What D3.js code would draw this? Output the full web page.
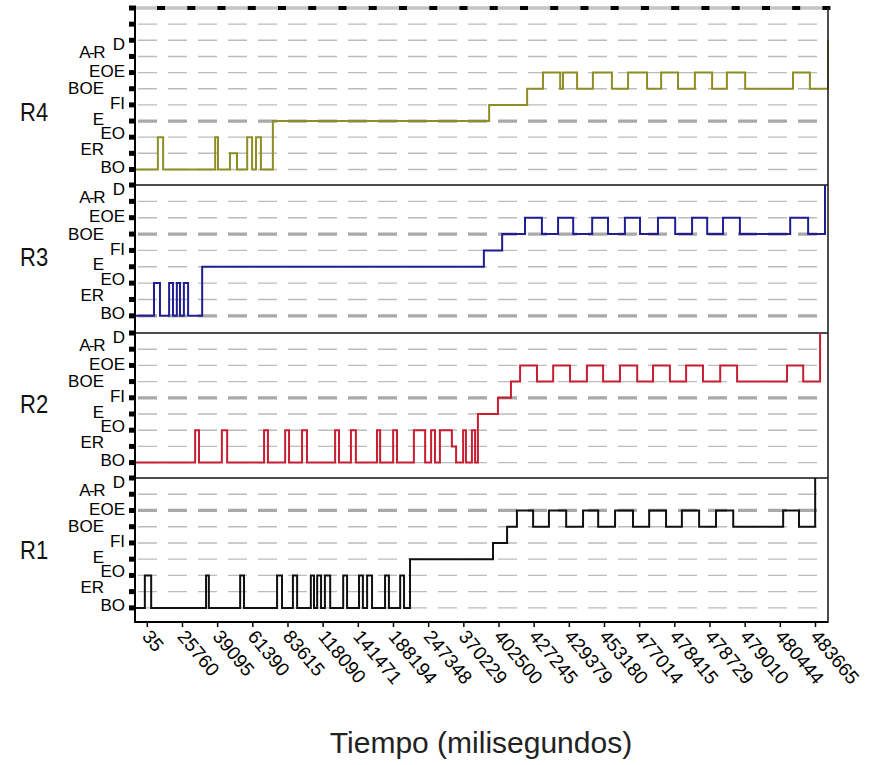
<!DOCTYPE html>
<html>
<head>
<meta charset="utf-8">
<script src="https://cdn.jsdelivr.net/npm/d3@7"></script>
<style>
  html, body { margin: 0; padding: 0; background: #fff; }
  svg { display: block; }
</style>
</head>
<body>
<script>
// ---------------- DATA ----------------
const states = ["BO", "ER", "EO", "E", "FI", "BOE", "EOE", "A-R", "D"];

// x positions are expressed in units of the labelled event index (0..19)
const timeLabels = ["35", "25760", "39095", "61390", "83615", "118090", "141471",
  "188194", "247348", "370229", "402500", "427245", "429379", "453180",
  "477014", "478415", "478729", "479010", "480444", "483665"];

const seriesNames = ["R4", "R3", "R2", "R1"];

const r4 = [[-0.35,"BO"],[0.30,"EO"],[0.45,"BO"],[1.93,"EO"],[2.01,"BO"],[2.35,"ER"],[2.55,"BO"],
  [2.84,"EO"],[2.98,"BO"],[3.09,"EO"],[3.23,"BO"],[3.57,"E"],[9.72,"FI"],[10.80,"BOE"],
  [11.25,"EOE"],[11.74,"BOE"],[11.82,"EOE"],[12.22,"BOE"],[12.67,"EOE"],[13.21,"BOE"],
  [13.67,"EOE"],[14.21,"BOE"],[14.61,"EOE"],[15.09,"BOE"],[15.57,"EOE"],[16.06,"BOE"],
  [16.48,"EOE"],[17.00,"BOE"],[18.36,"EOE"],[18.84,"BOE"],[19.355,"D"]];

const r3 = [[-0.35,"BO"],[0.19,"EO"],[0.36,"BO"],[0.62,"EO"],[0.73,"BO"],[0.84,"EO"],[0.93,"BO"],
  [1.04,"EO"],[1.16,"BO"],[1.56,"E"],[9.57,"FI"],[10.09,"BOE"],[10.74,"EOE"],[11.22,"BOE"],
  [11.68,"EOE"],[12.11,"BOE"],[12.65,"EOE"],[13.10,"BOE"],[13.58,"EOE"],[14.01,"BOE"],
  [14.52,"EOE"],[15.01,"BOE"],[15.49,"EOE"],[15.92,"BOE"],[16.37,"EOE"],[16.85,"BOE"],
  [18.28,"EOE"],[18.79,"BOE"],[19.27,"D"]];

const r2 = [[-0.35,"BO"],[1.36,"EO"],[1.47,"BO"],[2.12,"EO"],[2.27,"BO"],[3.32,"EO"],[3.43,"BO"],
  [3.92,"EO"],[4.03,"BO"],[4.40,"EO"],[4.54,"BO"],[5.34,"EO"],[5.45,"BO"],[5.79,"EO"],[5.93,"BO"],
  [6.53,"EO"],[6.62,"BO"],[6.99,"EO"],[7.10,"BO"],[7.58,"EO"],[7.90,"BO"],[8.07,"EO"],[8.18,"BO"],
  [8.32,"EO"],[8.66,"ER"],[8.78,"BO"],[8.98,"EO"],[9.06,"BO"],[9.23,"EO"],[9.32,"BO"],[9.40,"E"],
  [9.97,"FI"],[10.34,"BOE"],[10.60,"EOE"],[11.08,"BOE"],[11.54,"EOE"],[12.02,"BOE"],[12.50,"EOE"],
  [12.96,"BOE"],[13.44,"EOE"],[13.93,"BOE"],[14.38,"EOE"],[14.86,"BOE"],[15.32,"EOE"],[15.80,"BOE"],
  [16.29,"EOE"],[16.77,"BOE"],[18.19,"EOE"],[18.65,"BOE"],[19.13,"D"]];

const r1 = [[-0.35,"BO"],[-0.07,"EO"],[0.11,"BO"],[1.67,"EO"],[1.75,"BO"],[2.64,"EO"],[2.75,"BO"],
  [3.69,"EO"],[3.83,"BO"],[4.14,"EO"],[4.26,"BO"],[4.65,"EO"],[4.74,"BO"],[4.83,"EO"],[4.94,"BO"],
  [5.05,"EO"],[5.20,"BO"],[5.57,"EO"],[5.68,"BO"],[6.02,"EO"],[6.13,"BO"],[6.25,"EO"],[6.39,"BO"],
  [6.76,"EO"],[6.87,"BO"],[7.19,"EO"],[7.30,"BO"],[7.47,"E"],[9.83,"FI"],[10.23,"BOE"],
  [10.51,"EOE"],[10.97,"BOE"],[11.42,"EOE"],[11.91,"BOE"],[12.39,"EOE"],[12.82,"BOE"],
  [13.30,"EOE"],[13.81,"BOE"],[14.27,"EOE"],[14.75,"BOE"],[15.20,"EOE"],[15.69,"BOE"],
  [16.17,"EOE"],[16.66,"BOE"],[18.08,"EOE"],[18.53,"BOE"],[18.99,"D"]];

const axisTitle = "Tiempo (milisegundos)";

// ---------------- LAYOUT / STYLE ----------------
const W = 886, H = 765;
const left = 135, right = 828;
const panels = [
  { name: "R4", data: r4, color: "#8e8e24", top: 8,   bottom: 184, ymin: -0.9,  ymax: 10, thick: ["E"] },
  { name: "R3", data: r3, color: "#1f1f92", top: 185, bottom: 333, ymin: -1.05, ymax: 8,  thick: ["BOE", "BO"] },
  { name: "R2", data: r2, color: "#c81e32", top: 333, bottom: 478, ymin: -0.95, ymax: 8,  thick: ["FI"] },
  { name: "R1", data: r1, color: "#111111", top: 478, bottom: 622, ymin: -0.87, ymax: 8,  thick: ["EOE"] }
];
const labelStyle = {
  "BO":  { col: 0, dy: -2 }, "ER": { col: 1, dy: -4 }, "EO": { col: 0, dy: -4 },
  "E":   { col: 1, dy: -2 }, "FI": { col: 0, dy: -1 }, "BOE": { col: 1, dy: 0 },
  "EOE": { col: 0, dy: -1 }, "A-R": { col: 1, dy: -4 }, "D": { col: 0, dy: 4 }
};

const svg = d3.select("body").append("svg").attr("width", W).attr("height", H);
svg.append("rect").attr("width", W).attr("height", H).attr("fill", "#fff");

const x = d3.scaleLinear().domain([-0.35, 19.355]).range([left, right]);
const stateIndex = s => states.indexOf(s);

panels.forEach(p => {
  const y = d3.scaleLinear().domain([p.ymin, p.ymax]).range([p.bottom, p.top]);
  const g = svg.append("g");

  // horizontal dashed gridlines
  const levels = d3.range(0, p.ymax);
  g.selectAll("line.grid").data(levels).enter().append("line")
    .attr("x1", left + 3).attr("x2", right - 2)
    .attr("y1", d => y(d)).attr("y2", d => y(d))
    .attr("stroke", d => p.thick.includes(states[d]) ? "#a9a9a9" : "#bcbcbc")
    .attr("stroke-width", d => p.thick.includes(states[d]) ? 3.2 : 1.4)
    .attr("stroke-dasharray", "19,11");

  // top border
  if (p.name === "R4") {
    g.append("line").attr("x1", left).attr("x2", right)
      .attr("y1", y(p.ymax)).attr("y2", y(p.ymax))
      .attr("stroke", "#c4c4c4").attr("stroke-width", 3.5);
    const topTicks = d3.range(23).map(k => 0.39 + k * 0.86);
    g.selectAll("rect.tt").data(topTicks).enter().append("rect")
      .attr("x", d => x(d) - 4).attr("width", 8)
      .attr("y", y(p.ymax) - 2).attr("height", 4).attr("fill", "#000");
  } else {
    g.append("line").attr("x1", left).attr("x2", right)
      .attr("y1", y(p.ymax)).attr("y2", y(p.ymax))
      .attr("stroke", "#111").attr("stroke-width", 1.6);
  }

  // left axis ticks
  g.selectAll("rect.lt").data(d3.range(0, p.ymax + 1)).enter().append("rect")
    .attr("x", left - 6).attr("width", 7)
    .attr("y", d => y(d) - 2.5).attr("height", 5).attr("fill", "#000");

  // state labels
  g.selectAll("text.st").data(states).enter().append("text")
    .attr("x", d => labelStyle[d].col === 0 ? 125 : 104)
    .attr("y", d => y(stateIndex(d)) + labelStyle[d].dy)
    .attr("text-anchor", "end").attr("dominant-baseline", "central")
    .attr("font-family", "Liberation Sans, Arial, sans-serif")
    .attr("font-size", 17)
    .attr("letter-spacing", d => d === "A-R" ? -1.5 : 0)
    .attr("fill", "#000")
    .text(d => d);

  // panel name
  g.append("text")
    .attr("transform", `translate(20, ${y(3.6)}) scale(0.88,1.05)`)
    .attr("dominant-baseline", "central")
    .attr("font-family", "Liberation Sans, Arial, sans-serif")
    .attr("font-size", 25).attr("fill", "#111")
    .text(p.name);

  // step trace
  const line = d3.line()
    .x(d => x(d[0])).y(d => y(stateIndex(d[1])))
    .curve(d3.curveStepAfter);
  g.append("path").datum(p.data)
    .attr("d", line).attr("fill", "none")
    .attr("stroke", p.color).attr("stroke-width", 2);
});

// frame: left axis, right border, bottom axis
svg.append("line").attr("x1", left).attr("x2", left).attr("y1", 8).attr("y2", 623)
  .attr("stroke", "#000").attr("stroke-width", 2);
svg.append("line").attr("x1", right).attr("x2", right).attr("y1", 8).attr("y2", 623)
  .attr("stroke", "#222").attr("stroke-width", 1.6);
svg.append("line").attr("x1", left).attr("x2", right).attr("y1", 622).attr("y2", 622)
  .attr("stroke", "#000").attr("stroke-width", 2);

// bottom ticks and rotated time labels
svg.selectAll("line.bt").data(timeLabels).enter().append("line")
  .attr("x1", (d, i) => x(i)).attr("x2", (d, i) => x(i))
  .attr("y1", 622).attr("y2", 627).attr("stroke", "#000").attr("stroke-width", 1.5);

svg.selectAll("text.tl").data(timeLabels).enter().append("text")
  .attr("transform", (d, i) => `translate(${x(i) - 6}, 637) rotate(50)`)
  .attr("text-anchor", "start")
  .attr("font-family", "Liberation Sans, Arial, sans-serif")
  .attr("font-size", 19).attr("fill", "#000")
  .text(d => d);

svg.append("text")
  .attr("x", 481).attr("y", 753)
  .attr("text-anchor", "middle")
  .attr("font-family", "Liberation Sans, Arial, sans-serif")
  .attr("font-size", 30).attr("fill", "#222")
  .text(axisTitle);
</script>
</body>
</html>
